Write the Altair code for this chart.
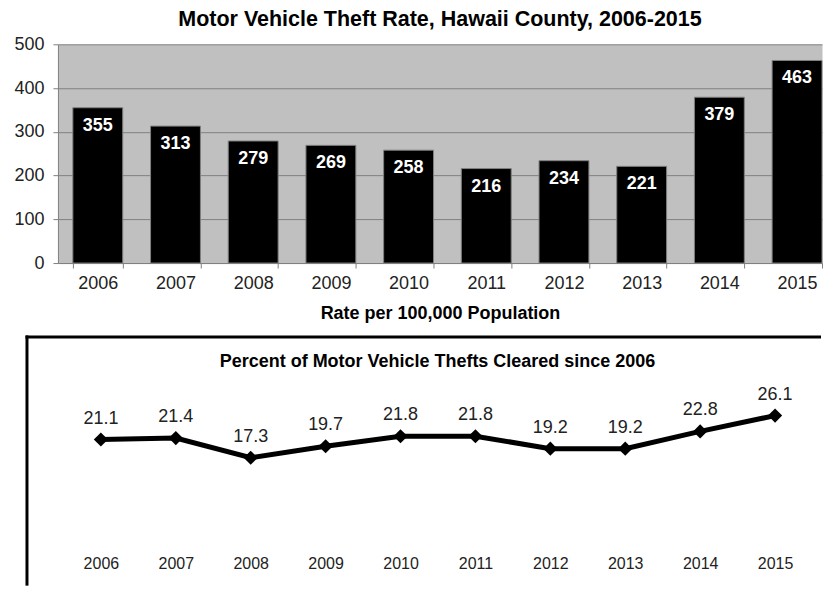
import altair as alt
import pandas as pd

years = ["2006", "2007", "2008", "2009", "2010", "2011", "2012", "2013", "2014", "2015"]
rates = [355, 313, 279, 269, 258, 216, 234, 221, 379, 463]
cleared = [21.1, 21.4, 17.3, 19.7, 21.8, 21.8, 19.2, 19.2, 22.8, 26.1]
rate_ticks = [0, 100, 200, 300, 400, 500]
top_title = "Motor Vehicle Theft Rate, Hawaii County, 2006-2015"
bottom_title = "Percent of  Motor Vehicle Thefts Cleared since 2006"

FONT = "Liberation Sans"
W = 765

top_df = pd.DataFrame({"year": years, "rate": rates})
bot_df = pd.DataFrame({"year": years, "pct": cleared})
box_df = pd.DataFrame({"label": [bottom_title]})

# ---------------- top: bar chart ----------------
xt = alt.X(
    "year:N", sort=years, title="Rate per 100,000 Population",
    scale=alt.Scale(paddingInner=0.358, paddingOuter=0.096, align=1),
    axis=alt.Axis(labelAngle=0, labelFontSize=18, labelColor="#222222", labelPadding=6,
                  tickBand="extent", tickSize=5, tickColor="#808080", domainColor="#808080",
                  titleFontSize=18, titleFontWeight="bold", titleColor="black",
                  titlePadding=13, grid=False),
)
yt = alt.Y(
    "rate:Q", title=None, scale=alt.Scale(domain=[0, 500]),
    axis=alt.Axis(values=rate_ticks, labelFontSize=18, labelColor="#222222", labelPadding=9,
                  tickSize=5, tickColor="#808080", domainColor="#808080",
                  grid=True, gridColor="#808080", gridWidth=1),
)
base_top = alt.Chart(top_df)
bars = base_top.mark_bar(color="black", stroke="#7f7f7f", strokeWidth=1).encode(x=xt, y=yt)
bar_labels = base_top.mark_text(color="white", fontSize=18, fontWeight="bold",
                                baseline="top", dy=9).encode(x=xt, y=yt, text="rate:Q")
top = alt.layer(bars, bar_labels).properties(
    width=W, height=219,
    title=alt.TitleParams(top_title, fontSize=21.5, fontWeight="bold", color="black",
                          anchor="middle", frame="group", offset=5),
    view=alt.ViewBackground(fill="#c0c0c0", stroke="transparent"),
)

# ---------------- bottom: line chart ----------------
xb = alt.X(
    "year:N", sort=years, title=None,
    scale=alt.Scale(type="point", range=[43, 718], padding=0),
    axis=alt.Axis(labelAngle=0, labelFontSize=16, labelColor="#222222", labelPadding=6,
                  domain=False, ticks=False, grid=False),
)
yb = alt.Y("pct:Q", scale=alt.Scale(domain=[0, 30], range=[167, 23]), axis=None)

line = alt.Chart(bot_df).mark_line(color="black", strokeWidth=5).encode(x=xb, y=yb)
pts = alt.Chart(bot_df).mark_point(shape="diamond", filled=True, color="black",
                                   size=200, opacity=1).encode(x=xb, y=yb)
vals = alt.Chart(bot_df).mark_text(fontSize=18, color="#222222", baseline="bottom",
                                   dy=-12).encode(x=xb, y=yb,
                                                  text=alt.Text("pct:Q", format=".1f"))
top_border = alt.Chart(box_df).mark_rule(color="black", strokeWidth=3).encode(
    x=alt.value(-32.5), x2=alt.value(764), y=alt.value(-37))
left_border = alt.Chart(box_df).mark_rule(color="black", strokeWidth=3).encode(
    x=alt.value(-31), y=alt.value(-38.5), y2=alt.value(212))
panel_title = alt.Chart(box_df).mark_text(fontSize=18, fontWeight="bold", color="black",
                                          baseline="middle", align="center").encode(
    x=alt.value(380), y=alt.value(-12), text="label:N")

bottom = alt.layer(top_border, left_border, panel_title, line, pts, vals).properties(
    width=W, height=176,
)

chart = (
    alt.vconcat(top, bottom, spacing=9)
    .properties(padding={"left": 5, "top": 0, "right": 0, "bottom": 0})
    .configure(font=FONT)
    .configure_view(stroke="transparent")
)

chart.save("out.html", embed_options={"renderer": "svg", "actions": False})
